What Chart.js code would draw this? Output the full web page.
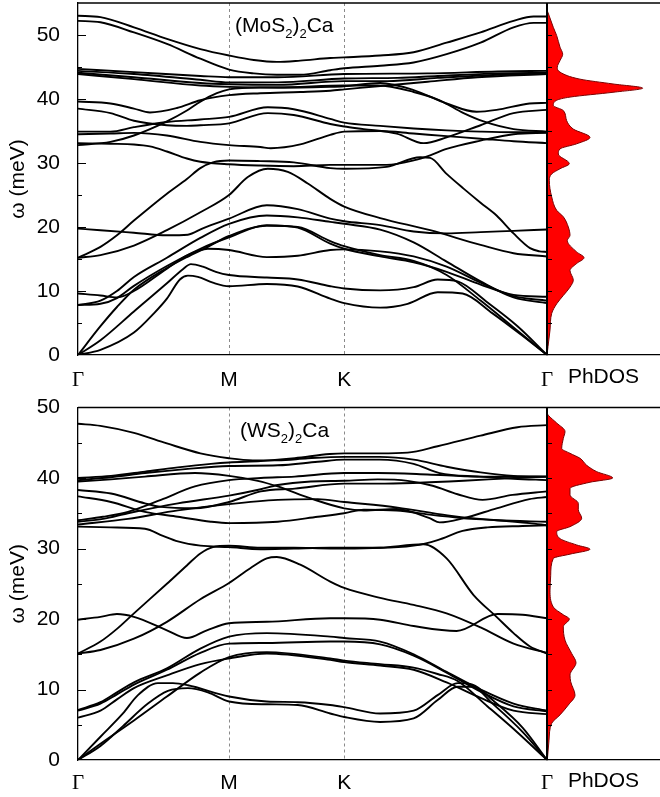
<!DOCTYPE html>
<html lang="en">
<head>
<meta charset="UTF-8">
<title>Phonon dispersion and PhDOS</title>
<script src="https://cdn.jsdelivr.net/npm/chart.js"></script>
<style>
  body { margin: 0; background: #fff; }
  #wrap { position: relative; width: 660px; height: 797px; overflow: hidden; }
  canvas { position: absolute; }
</style>
</head>
<body>
<div id="wrap">
  <canvas id="bandTop" width="567" height="430" style="left:0;top:-30px"></canvas>
  <canvas id="dosTop" width="114" height="430" style="left:546px;top:-30px"></canvas>
  <canvas id="bandBot" width="567" height="420" style="left:0;top:377px"></canvas>
  <canvas id="dosBot" width="114" height="420" style="left:546px;top:377px"></canvas>
</div>
<script>
// k-path (Γ-M-K-Γ), path length units
const kTicks = [0, 1.512, 2.665, 4.695];
const kLabels = ['Γ', 'M', 'K', 'Γ'];
const yTicks = [0, 10, 20, 30, 40, 50];

// ---- (MoS2)2Ca bands: [k, meV] ----
const moA = [[0,53.0],[0.225,52.8],[0.56,51.2],[0.89,49.4],[1.225,47.8],[1.512,46.8],[1.76,46.1],[1.99,45.8],[2.225,46.0],[2.525,46.4],[2.665,46.5],[3.025,46.8],[3.36,47.3],[3.69,48.8],[4.03,50.4],[4.36,52.2],[4.56,52.9],[4.695,52.9]];
const moB = [[0,52.2],[0.225,52.0],[0.56,50.4],[0.89,48.6],[1.225,46.3],[1.512,44.6],[1.76,44.0],[1.99,43.8],[2.225,43.8],[2.525,44.5],[2.665,44.8],[3.025,45.2],[3.36,45.7],[3.69,47.0],[4.03,48.8],[4.36,51.2],[4.56,51.9],[4.695,51.9]];
const moC1 = [[0,44.7],[0.56,44.2],[1.225,43.6],[1.512,43.4],[2.0,43.4],[2.665,43.9],[3.5,44.0],[4.2,44.3],[4.695,44.4]];
const moC2 = [[0,44.4],[0.56,43.9],[1.225,43.0],[1.512,42.6],[2.0,42.6],[2.665,43.2],[3.2,43.3],[3.6,43.6],[4.2,44.0],[4.695,44.1]];
const moC3 = [[0,44.1],[0.56,43.4],[1.225,42.5],[1.512,42.3],[2.0,42.2],[2.665,42.8],[3.1,42.8],[3.6,43.3],[4.2,43.8],[4.695,44.0]];
const moC4 = [[0,43.9],[0.56,43.1],[1.225,42.1],[1.512,41.9],[2.0,41.8],[2.665,42.1],[3.0,42.1],[3.36,41.1],[3.62,39.8],[3.86,37.8],[4.06,36.5],[4.36,35.3],[4.695,34.9]];
const moL1 = [[0,39.6],[0.325,39.3],[0.56,38.5],[0.72,37.9],[0.99,38.6],[1.225,39.8],[1.512,40.6],[1.825,40.9],[2.225,41.1],[2.525,41.3],[2.665,41.5],[3.0,42.0],[3.5,42.7],[4.0,43.4],[4.695,43.9]];
const moL2 = [[0,38.5],[0.325,37.8],[0.56,36.6],[0.89,35.9],[1.09,35.8],[1.225,35.9],[1.512,36.2],[1.9,37.8],[2.16,37.5],[2.525,36.1],[2.665,35.7],[2.86,35.3],[3.19,34.6],[3.46,33.1],[3.69,34.0],[4.03,35.9],[4.36,37.8],[4.695,38.3]];
const moR1 = [[0,32.8],[0.325,33.3],[0.56,34.3],[0.89,36.5],[1.09,38.2],[1.225,39.6],[1.39,40.9],[1.512,41.5],[1.825,41.8],[2.225,41.8],[2.525,41.9],[2.665,42.0],[3.025,42.5],[3.36,41.4],[3.69,39.3],[3.99,38.0],[4.19,38.3],[4.52,39.3],[4.695,39.4]];
const moR2 = [[0,34.9],[0.325,34.9],[0.56,35.6],[0.89,36.4],[1.225,36.8],[1.512,37.2],[1.9,38.7],[2.16,38.4],[2.525,36.9],[2.665,36.3],[3.025,35.8],[3.36,35.4],[3.69,35.1],[4.03,34.9],[4.36,34.8],[4.695,34.8]];
const moM1 = [[0,34.5],[0.325,34.6],[0.56,34.7],[0.89,34.3],[1.225,33.3],[1.512,32.8],[1.825,32.5],[1.93,32.3],[2.225,32.9],[2.525,34.4],[2.665,34.9],[3.025,35.0],[3.36,34.6],[3.69,34.2],[4.03,33.8],[4.36,33.4],[4.695,33.1]];
const moF = [[0,33.1],[0.325,33.0],[0.56,32.9],[0.72,32.6],[0.89,31.8],[1.09,30.7],[1.225,30.2],[1.512,29.8],[1.825,29.6],[2.16,29.5],[2.525,29.7],[2.665,29.7],[3.09,29.7],[3.36,30.4],[3.525,31.2],[3.69,32.2],[4.03,33.5],[4.36,34.5],[4.695,34.7]];
const moS = [[0,15.2],[0.225,16.9],[0.39,18.7],[0.56,21.0],[0.89,25.2],[1.09,27.5],[1.225,29.2],[1.35,30.1],[1.512,30.4],[1.825,30.3],[2.16,30.1],[2.525,29.2],[2.665,29.1],[3.09,29.4],[3.425,30.9],[3.525,30.8],[3.69,28.3],[3.86,26.0],[4.03,23.8],[4.19,21.8],[4.36,19.0],[4.525,16.7],[4.62,16.2],[4.695,16.1]];
const moH = [[0,15.2],[0.225,15.6],[0.56,17.1],[0.89,19.5],[1.225,22.3],[1.512,25.0],[1.7,27.8],[1.9,29.1],[2.1,28.6],[2.3,26.8],[2.525,24.4],[2.665,23.2],[3.025,21.4],[3.525,19.5],[4.03,17.2],[4.36,15.9],[4.695,15.4]];
const moP = [[0,19.75],[0.225,19.5],[0.56,19.1],[0.89,18.7],[1.1,18.8],[1.25,19.8],[1.512,21.3],[1.89,23.4],[2.2,22.8],[2.525,21.3],[2.665,20.9],[3.025,20.3],[3.36,19.3],[3.69,19.0],[4.03,19.2],[4.36,19.4],[4.695,19.6]];
const moQ = [[0,7.8],[0.225,8.5],[0.39,10.0],[0.56,12.2],[0.89,15.2],[1.225,18.3],[1.512,20.5],[1.89,21.8],[2.2,21.5],[2.525,20.8],[2.665,20.5],[3.025,19.6],[3.36,17.6],[3.69,14.6],[4.03,11.5],[4.36,9.0],[4.695,8.1]];
const moR = [[0,7.8],[0.225,8.0],[0.39,8.9],[0.56,10.8],[0.89,13.9],[1.225,16.6],[1.512,18.4],[1.89,20.3],[2.2,19.9],[2.525,17.4],[2.665,16.6],[3.025,15.4],[3.36,14.5],[3.69,13.0],[4.03,11.0],[4.36,9.4],[4.695,9.1]];
const moT = [[0,9.6],[0.225,9.3],[0.39,9.0],[0.56,10.0],[0.89,13.5],[1.1,15.6],[1.3,16.6],[1.512,16.4],[1.89,15.3],[2.2,15.5],[2.525,16.4],[2.665,16.5],[3.025,16.2],[3.36,15.4],[3.69,13.8],[4.03,11.3],[4.36,9.2],[4.695,8.5]];
const moU = [[0,0],[0.225,2.3],[0.56,6.8],[0.89,11.2],[1.05,13.4],[1.13,14.2],[1.25,13.8],[1.38,13.0],[1.512,12.5],[1.89,12.1],[2.2,11.8],[2.525,10.75],[2.665,10.4],[3.025,10.1],[3.36,10.6],[3.6,11.8],[3.8,11.5],[4.1,8.2],[4.4,4.5],[4.695,0]];
const moV = [[0,0],[0.225,0.8],[0.56,3.5],[0.76,6.5],[0.89,8.8],[1.02,11.8],[1.1,12.4],[1.2,12.2],[1.35,11.3],[1.512,10.75],[1.89,11.1],[2.2,10.7],[2.525,8.8],[2.665,8.1],[3.025,7.4],[3.3,8.0],[3.6,9.8],[3.85,9.6],[4.15,6.5],[4.45,3.0],[4.695,0]];
const moLA = [[0,0],[0.225,4.5],[0.39,7.5],[0.56,10.2],[0.89,13.6],[1.09,15.3],[1.3,16.9],[1.512,18.6],[1.89,20.2],[2.2,20.0],[2.525,17.8],[2.665,17.0],[3.025,15.6],[3.36,14.7],[3.69,12.5],[4.03,8.5],[4.36,4.3],[4.695,0]];
const moBands = [moA, moB, moC1, moC2, moC3, moC4, moL1, moL2, moR1, moR2, moM1, moF, moS, moH, moP, moQ, moR, moT, moU, moV, moLA];

// ---- (WS2)2Ca bands: [k, meV] ----
const wsA = [[0,47.7],[0.225,47.4],[0.56,46.4],[0.89,44.9],[1.225,43.5],[1.512,42.8],[1.75,42.5],[2.0,42.5],[2.3,42.8],[2.665,43.0],[3.02,43.0],[3.36,42.6],[3.69,41.6],[4.03,40.8],[4.36,40.3],[4.695,40.2]];
const wsG = [[0,40.0],[0.33,40.3],[0.67,40.9],[1.0,41.5],[1.33,42.0],[1.512,42.2],[1.83,42.4],[2.17,42.8],[2.52,43.4],[2.665,43.5],[3.02,43.5],[3.3,43.6],[3.6,44.5],[4.03,46.0],[4.4,47.2],[4.695,47.5]];
const wsG2 = [[0,39.7],[0.33,40.1],[0.67,40.7],[1.1,41.3],[1.512,41.7],[2.0,41.8],[2.4,42.3],[2.665,42.6],[3.02,42.6],[3.36,42.0],[3.62,40.7],[4.02,40.2],[4.36,39.9],[4.695,39.7]];
const wsG3 = [[0,39.5],[0.33,39.8],[0.67,40.2],[1.17,40.7],[1.512,40.3],[1.8,39.6],[2.0,38.8],[2.33,37.1],[2.665,35.7],[2.86,35.4],[3.19,35.6],[3.52,34.3],[3.62,33.7],[3.86,34.3],[4.19,35.7],[4.52,37.0],[4.695,37.3]];
const wsR1 = [[0,34.0],[0.25,34.5],[0.5,35.2],[0.83,36.9],[1.17,38.8],[1.512,39.7],[1.83,40.0],[2.17,40.2],[2.665,40.7],[3.0,40.7],[3.5,40.5],[4.0,40.2],[4.695,40.2]];
const wsR2 = [[0,33.8],[0.25,34.2],[0.5,35.0],[1.0,36.4],[1.512,37.5],[1.83,38.4],[2.0,39.0],[2.33,39.5],[2.665,39.6],[3.0,39.8],[3.3,39.6],[3.55,38.9],[3.8,37.7],[4.05,36.9],[4.35,37.6],[4.695,38.1]];
const wsL1 = [[0,38.3],[0.33,37.8],[0.67,36.4],[0.83,35.9],[1.17,35.7],[1.512,36.6],[1.83,38.1],[2.17,38.5],[2.665,39.2],[3.0,39.2],[3.36,39.3],[3.86,39.6],[4.36,40.0],[4.695,40.2]];
const wsL2 = [[0,37.4],[0.33,36.6],[0.67,35.2],[1.0,34.5],[1.33,33.8],[1.512,33.6],[2.0,33.8],[2.4,34.5],[2.665,35.0],[2.86,35.5],[3.19,35.4],[3.52,34.8],[3.86,34.3],[4.19,34.0],[4.52,33.6],[4.695,33.3]];
const wsY = [[0,33.4],[0.5,34.2],[1.0,35.4],[1.512,36.3],[2.0,36.9],[2.4,37.0],[2.665,36.6],[3.2,35.8],[3.7,34.7],[4.2,34.0],[4.695,33.8]];
const wsF = [[0,33.1],[0.325,33.0],[0.67,32.8],[0.85,31.8],[1.0,31.0],[1.225,30.4],[1.512,30.2],[1.825,29.9],[2.16,30.0],[2.525,30.1],[2.665,30.1],[3.025,30.1],[3.36,30.4],[3.6,31.2],[3.85,32.5],[4.1,33.0],[4.45,33.2],[4.695,33.3]];
const wsS = [[0,15.1],[0.225,16.8],[0.39,18.6],[0.56,20.8],[0.89,25.0],[1.09,27.6],[1.225,29.3],[1.35,30.2],[1.512,30.4],[1.825,30.1],[2.16,30.1],[2.525,30.0],[2.665,30.0],[3.025,30.1],[3.46,30.6],[3.69,28.6],[3.96,23.4],[4.19,20.3],[4.36,18.0],[4.525,16.1],[4.695,15.1]];
const wsH = [[0,15.1],[0.225,15.6],[0.56,17.2],[0.89,19.6],[1.225,22.8],[1.512,25.1],[1.725,27.2],[1.89,28.6],[1.99,28.8],[2.225,27.7],[2.525,25.3],[2.665,24.4],[3.025,23.0],[3.36,22.0],[3.69,20.8],[4.03,18.8],[4.36,16.5],[4.695,15.2]];
const wsP = [[0,19.9],[0.225,20.3],[0.39,20.7],[0.56,20.3],[0.89,18.4],[1.09,17.3],[1.29,18.4],[1.512,19.4],[1.89,19.6],[2.525,20.1],[2.665,20.1],[3.025,19.9],[3.36,19.0],[3.79,18.3],[4.2,20.7],[4.45,20.6],[4.695,20.1]];
const wsQ = [[0,7.1],[0.225,8.2],[0.39,9.6],[0.56,11.0],[0.89,13.0],[1.225,15.8],[1.512,17.5],[1.89,18.0],[2.525,17.5],[2.665,17.3],[3.025,16.8],[3.36,15.0],[3.69,12.5],[4.03,10.0],[4.36,8.0],[4.695,7.0]];
const wsW = [[0,7.0],[0.225,8.0],[0.39,9.3],[0.56,10.7],[0.89,12.8],[1.225,15.2],[1.512,16.5],[1.89,16.6],[2.525,16.8],[2.665,16.8],[3.025,16.4],[3.36,14.8],[3.69,12.4],[4.03,9.7],[4.36,7.6],[4.695,6.9]];
const wsR = [[0,6.0],[0.225,7.0],[0.39,8.6],[0.56,10.2],[0.89,12.0],[1.225,13.6],[1.512,14.4],[1.89,15.1],[2.525,14.2],[2.665,13.9],[3.025,13.4],[3.36,12.8],[3.69,11.0],[4.03,8.8],[4.36,7.0],[4.695,6.5]];
const wsLA = [[0,0],[0.225,2.3],[0.56,5.6],[0.89,9.0],[1.225,12.4],[1.512,14.6],[1.89,15.3],[2.525,14.4],[2.665,14.1],[3.025,13.6],[3.36,13.1],[3.6,12.2],[3.8,11.2],[4.1,7.6],[4.4,3.9],[4.695,0]];
const wsU = [[0,0],[0.225,3.3],[0.45,6.6],[0.6,9.2],[0.8,10.9],[0.95,10.9],[1.1,10.6],[1.512,9.0],[1.89,8.3],[2.2,8.2],[2.525,7.8],[2.665,7.5],[3.025,6.6],[3.36,7.0],[3.6,9.2],[3.8,10.9],[3.95,10.7],[4.15,8.5],[4.45,4.6],[4.695,0]];
const wsV = [[0,0],[0.225,2.0],[0.45,4.8],[0.7,8.0],[0.9,9.8],[1.1,10.2],[1.3,9.6],[1.512,8.3],[1.89,7.9],[2.2,7.8],[2.525,6.6],[2.665,6.1],[3.025,5.4],[3.36,5.9],[3.6,8.5],[3.8,10.4],[3.95,10.4],[4.15,8.0],[4.45,4.0],[4.695,0]];
const wsBands = [wsA, wsG, wsG2, wsG3, wsR1, wsR2, wsL1, wsL2, wsY, wsF, wsS, wsH, wsP, wsQ, wsW, wsR, wsLA, wsU, wsV];

// ---- phonon DOS (energy in meV, DOS in arb. units) ----
const moDosE = [0, 1.3, 3.9, 6.5, 8.0, 9.3, 10.6, 11.7, 13.2, 14.3, 15.2, 16.1, 17.9, 18.7, 20.0, 21.6, 22.6, 24.7, 27.3, 28.3, 29.1, 29.9, 31.4, 32.2, 33.0, 34.0, 35.3, 36.6, 38.2, 39.0, 39.8, 40.3, 41.05, 41.7, 42.35, 43.1, 44.2, 44.95, 46.0, 47.0, 48.1, 49.9, 51.2, 53.5, 53.9];
const moDosV = [0, 0.01, 0.03, 0.047, 0.097, 0.163, 0.23, 0.263, 0.23, 0.297, 0.37, 0.297, 0.203, 0.23, 0.213, 0.163, 0.097, 0.047, 0.023, 0.047, 0.13, 0.223, 0.113, 0.13, 0.297, 0.43, 0.263, 0.197, 0.163, 0.063, 0.097, 0.23, 0.66, 0.957, 0.66, 0.33, 0.13, 0.103, 0.13, 0.157, 0.13, 0.097, 0.063, 0.01, 0];
const wsDosE = [0, 2.8, 5.2, 6.4, 7.8, 9.2, 11.1, 12.05, 13.8, 15.1, 17.0, 18.9, 20.0, 20.6, 21.7, 24.1, 26.2, 28.6, 29.2, 29.9, 30.5, 31.4, 32.4, 33.1, 34.3, 35.5, 36.4, 37.6, 38.5, 39.4, 40.0, 40.9, 41.8, 42.8, 43.5, 44.2, 45.6, 46.6, 47.8, 48.9, 49.2];
const wsDosV = [0.003, 0.02, 0.047, 0.13, 0.213, 0.28, 0.237, 0.23, 0.29, 0.247, 0.18, 0.163, 0.223, 0.163, 0.063, 0.03, 0.037, 0.063, 0.23, 0.43, 0.297, 0.13, 0.097, 0.23, 0.347, 0.313, 0.313, 0.23, 0.23, 0.43, 0.657, 0.497, 0.397, 0.33, 0.23, 0.147, 0.163, 0.18, 0.097, 0.013, 0];

const moTitle = ['(MoS', '2', ')', '2', 'Ca'];
const wsTitle = ['(WS', '2', ')', '2', 'Ca'];

Chart.defaults.font.family = "'Liberation Sans', Arial, sans-serif";
Chart.defaults.color = '#000';

// frame top line, inward ticks, dashed M/K lines, panel title
const decor = {
  id: 'decor',
  beforeDatasetsDraw(chart, args, o) {
    if (!o.dashes) return;
    const {ctx, chartArea: a} = chart;
    const x = chart.scales.x;
    ctx.save();
    ctx.strokeStyle = '#8a8a8a';
    ctx.lineWidth = 1;
    ctx.setLineDash([3, 3]);
    o.dashes.forEach(v => {
      const px = Math.round(x.getPixelForValue(v)) + 0.5;
      ctx.beginPath(); ctx.moveTo(px, a.top); ctx.lineTo(px, a.bottom); ctx.stroke();
    });
    ctx.restore();
  },
  afterDraw(chart, args, o) {
    const {ctx, chartArea: a} = chart;
    const y = chart.scales.y;
    ctx.save();
    ctx.strokeStyle = '#000';
    ctx.lineWidth = 1.3;
    ctx.beginPath(); ctx.moveTo(a.left, a.top); ctx.lineTo(a.right, a.top); ctx.stroke();
    if (o.divider) {
      ctx.lineWidth = 2;
      ctx.beginPath(); ctx.moveTo(a.left, a.top); ctx.lineTo(a.left, a.bottom); ctx.stroke();
    }
    ctx.lineWidth = 1;
    for (let v = 5; v < y.max; v += 5) {
      const py = Math.round(y.getPixelForValue(v)) + 0.5;
      const len = v % 10 === 0 ? o.major : o.minor;
      ctx.beginPath(); ctx.moveTo(a.left, py); ctx.lineTo(a.left + len, py); ctx.stroke();
    }
    if (o.title) {
      let tx = a.left + o.titleDx;
      const ty = a.top + o.titleDy;
      ctx.fillStyle = '#000';
      ctx.textAlign = 'left';
      ctx.textBaseline = 'alphabetic';
      o.title.forEach((t, i) => {
        const sub = i % 2 === 1;
        ctx.font = (sub ? 13 : 21) + "px 'Liberation Sans', Arial";
        ctx.fillText(t, tx, ty + (sub ? 6 : 0));
        tx += ctx.measureText(t).width;
      });
    }
    ctx.restore();
  }
};

function bandChart(id, bands, yMax, o) {
  return new Chart(document.getElementById(id), {
    type: 'line',
    data: {
      datasets: bands.map(b => ({
        data: b.map(p => ({x: p[0], y: p[1]})),
        borderColor: '#000',
        borderWidth: 1.9,
        pointRadius: 0,
        fill: false,
        cubicInterpolationMode: 'monotone'
      }))
    },
    options: {
      responsive: false,
      animation: false,
      events: [],
      layout: {padding: {top: o.padTop, right: 20, left: 0, bottom: 0}},
      plugins: {
        legend: {display: false},
        tooltip: {enabled: false},
        decor: {dashes: [kTicks[1], kTicks[2]], major: 8, minor: 4, title: o.title, titleDx: o.titleDx, titleDy: o.titleDy}
      },
      scales: {
        x: {
          type: 'linear', min: 0, max: kTicks[3],
          afterBuildTicks: s => { s.ticks = kTicks.map(v => ({value: v})); },
          afterFit: s => { s.height = o.xH; },
          ticks: {
            autoSkip: false, maxRotation: 0, padding: o.tickPad,
            font: c => ({family: kLabels[c.index] === 'Γ' ? "'Liberation Serif', 'Times New Roman', serif" : "'Liberation Sans', Arial", size: 21}),
            callback: (v, i) => kLabels[i]
          },
          grid: {display: false},
          border: {color: '#000', width: 1.3}
        },
        y: {
          type: 'linear', min: 0, max: yMax,
          afterBuildTicks: s => { s.ticks = yTicks.map(v => ({value: v})); },
          afterFit: s => { s.width = 78; },
          ticks: {padding: 10, font: {size: 21}},
          grid: {display: false},
          border: {color: '#000', width: 1.3},
          title: {display: true, text: 'ω (meV)', font: {size: 21}, padding: {top: 6, bottom: 0}}
        }
      }
    },
    plugins: [decor]
  });
}

function dosChart(id, energy, dos, yMax, o) {
  return new Chart(document.getElementById(id), {
    type: 'line',
    data: {
      datasets: [{
        data: energy.map((e, i) => ({x: dos[i], y: e})),
        borderColor: '#7a0000',
        borderWidth: 1,
        backgroundColor: '#ff0000',
        fill: 'origin',
        pointRadius: 0,
        cubicInterpolationMode: 'monotone'
      }]
    },
    options: {
      indexAxis: 'y',
      responsive: false,
      animation: false,
      events: [],
      layout: {padding: {top: o.padTop, right: 0, left: 1, bottom: 0}},
      plugins: {
        legend: {display: false},
        tooltip: {enabled: false},
        decor: {divider: true, major: 5, minor: 5}
      },
      scales: {
        y: {type: 'linear', min: 0, max: yMax, display: false},
        x: {
          type: 'linear', min: 0, max: 1.13,
          afterFit: s => { s.height = o.xH; },
          ticks: {display: false},
          grid: {display: false},
          border: {color: '#000', width: 1.3},
          title: {display: true, text: 'PhDOS', font: {size: 21}, padding: {top: 0, bottom: o.titlePad}}
        }
      }
    },
    plugins: [decor]
  });
}

bandChart('bandTop', moBands, 55, {padTop: 33, xH: 45, tickPad: 5, title: moTitle, titleDx: 157, titleDy: 28.7});
dosChart('dosTop', moDosE, moDosV, 55, {padTop: 33, xH: 45, titlePad: 10.4});
bandChart('bandBot', wsBands, 50, {padTop: 30.5, xH: 37, tickPad: 3, title: wsTitle, titleDx: 162, titleDy: 29.2});
dosChart('dosBot', wsDosE, wsDosV, 50, {padTop: 30.5, xH: 37, titlePad: 3.4});
</script>
</body>
</html>
